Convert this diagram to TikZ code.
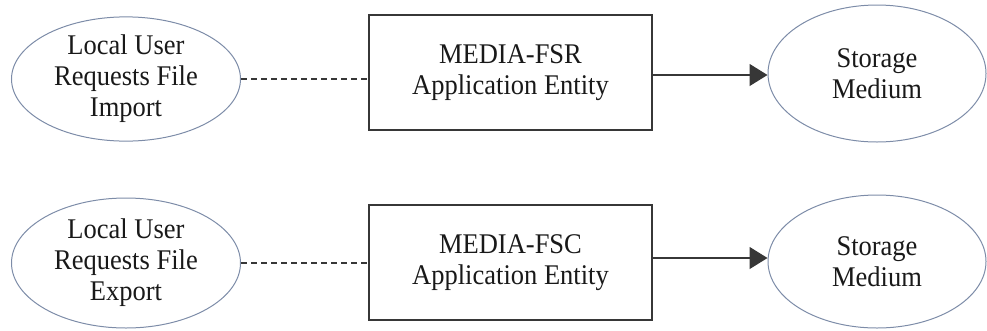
\documentclass[tikz,border=0pt]{standalone}
\usepackage{fontspec}
\setmainfont[FakeStretch=0.93]{Liberation Serif}
\usetikzlibrary{arrows.meta,shapes.geometric}
\definecolor{ovalline}{RGB}{125,140,168}
\definecolor{boxline}{RGB}{55,55,55}
\definecolor{inktext}{RGB}{25,25,25}
\tikzset{
  lbl/.style={font=\fontsize{28.5}{31}\selectfont, text=inktext, align=center},
  oval/.style={lbl, ellipse, draw=ovalline, line width=1pt, inner sep=0pt},
  entity/.style={lbl, rectangle, draw=boxline, line width=1.4pt, inner sep=0pt},
  link/.style={draw=boxline, line width=1.1pt, dash pattern=on 6pt off 4pt},
  flow/.style={draw=boxline, line width=1.2pt, -{Triangle[length=18pt,width=22pt]}}
}
\begin{document}
\begin{tikzpicture}[x=1pt,y=-1pt]
\useasboundingbox (0,0) rectangle (987,330);
% import row
\node[oval, minimum width=229pt, minimum height=115pt] (userImp) at (126,79) {Local User\\Requests File\\Import};
\node[entity, minimum width=283pt, minimum height=115pt] (fsr) at (510.5,72.5) {MEDIA-FSR\\Application Entity};
\node[oval, minimum width=218pt, minimum height=137pt] (medImp) at (877,73.5) {Storage\\Medium};
\draw[link] (userImp.east) -- (userImp.east -| fsr.west);
\draw[flow] (fsr.east |- 0,75) -- (medImp.west |- 0,75);
% export row
\node[oval, minimum width=229pt, minimum height=130pt] (userExp) at (126,263) {Local User\\Requests File\\Export};
\node[entity, minimum width=283pt, minimum height=115pt] (fsc) at (510.5,262.5) {MEDIA-FSC\\Application Entity};
\node[oval, minimum width=218pt, minimum height=133pt] (medExp) at (877,261.5) {Storage\\Medium};
\draw[link] (userExp.east) -- (userExp.east -| fsc.west);
\draw[flow] (fsc.east |- 0,258) -- (medExp.west |- 0,258);
\end{tikzpicture}
\end{document}
